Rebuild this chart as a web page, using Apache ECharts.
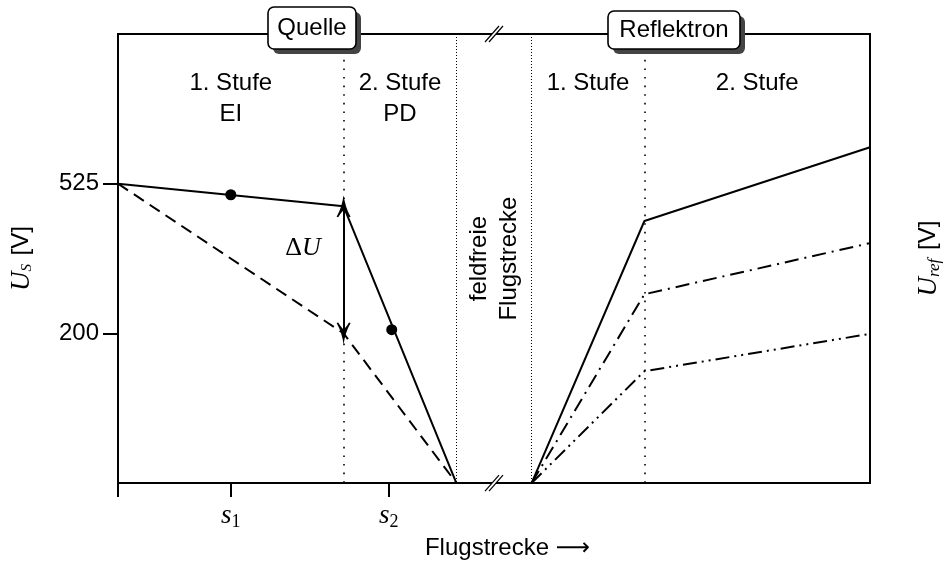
<!DOCTYPE html>
<html>
<head>
<meta charset="utf-8">
<script src="https://cdn.jsdelivr.net/npm/echarts@6/dist/echarts.min.js"></script>
<style>
  html, body { margin: 0; padding: 0; background: #fff; }
  #main { width: 951px; height: 565px; }
</style>
</head>
<body>
<div id="main"></div>
<script>
// Flugstrecke schematisch 0..100, Spannung in V
const xRange = [0, 100]
const yRange = [-125, 850]
const yTickValues = [200, 525]
const xTickValues = [0, 15, 36]
const sLabelValues = [15, 36]
const sLabelSubs = ['1', '2']

// Quelle
const quelleSolid = [[0, 525], [30, 476], [45, -125]]
const quelleDashed = [[0, 525], [30, 200], [45, -125]]
const quelleDots = [[15, 501], [36.4, 208]]
const deltaU = [30, 476, 200] // x, oben, unten

// Reflektron
const reflSolid = [[55, -125], [70, 444], [100, 604]]
const reflDashDot = [[55, -125], [70, 285], [100, 396]]
const reflDashDotDot = [[55, -125], [70, 118], [100, 199]]

// Bereiche
const stageLines = [30, 70]    // Stufengrenzen
const stageLineTop = 794
const regionLines = [45, 55]   // feldfreie Flugstrecke
const breakX = 50
const regionEdges = [[0, 30], [30, 45], [45, 55], [55, 70], [70, 100]]
const regionNames = ['1. Stufe\nEI', '2. Stufe\nPD', 'feldfreie\nFlugstrecke', '1. Stufe', '2. Stufe']
const boxTitles = ['Quelle', 'Reflektron']

const sans = "'Liberation Sans', 'DejaVu Sans', sans-serif"
const serif = "'Liberation Serif', 'DejaVu Serif', serif"

const chart = echarts.init(document.getElementById('main'))

const lineSeries = (name, data, type) => ({
  name: name,
  type: 'line',
  data: data,
  showSymbol: false,
  symbol: 'none',
  silent: true,
  z: 5,
  lineStyle: { color: '#000', width: 2, type: type }
})

const markAreaData = regionEdges.map((e, i) => {
  const start = { xAxis: e[0], name: regionNames[i] }
  if (i === 2) {
    start.label = { position: 'inside', rotate: 90, lineHeight: 30, distance: 0 }
  }
  return [start, { xAxis: e[1] }]
})

// LaTeX-artige Pfeilspitze
const arrowHead = 'path://M0,0 C1,7 3,14 6.5,20 L5,20.5 C3,17 1,15 0,14 C-1,15 -3,17 -5,20.5 L-6.5,20 C-3,14 -1,7 0,0 Z'

const option = {
  animation: false,
  grid: {
    left: 116, right: 78, top: 34, bottom: 78,
    show: true, borderColor: '#000', borderWidth: 2, backgroundColor: 'transparent'
  },
  xAxis: {
    type: 'value',
    min: xRange[0],
    max: xRange[1],
    axisLine: { show: false, onZero: false },
    splitLine: { show: false },
    axisTick: { show: true, customValues: xTickValues, length: 14, lineStyle: { color: '#000', width: 2 } },
    axisLabel: {
      customValues: sLabelValues,
      margin: 18,
      formatter: v => '{s|s}{sub|' + sLabelSubs[sLabelValues.indexOf(v)] + '}',
      rich: {
        s: { fontFamily: serif, fontStyle: 'italic', fontSize: 27, color: '#000' },
        sub: { fontFamily: serif, fontSize: 18, color: '#000', padding: [12, 0, 0, 0] }
      }
    },
    name: 'Flugstrecke \u27F6',
    nameLocation: 'middle',
    nameGap: 46,
    nameTextStyle: { fontFamily: sans, fontSize: 24, color: '#000', padding: [0, 0, 0, 27] }
  },
  yAxis: [
    {
      type: 'value',
      min: yRange[0],
      max: yRange[1],
      axisLine: { show: false, onZero: false },
      splitLine: { show: false },
      axisTick: { show: true, customValues: yTickValues, length: 15, lineStyle: { color: '#000', width: 2 } },
      axisLabel: { customValues: yTickValues, margin: 19, fontFamily: sans, fontSize: 24, color: '#000' },
      name: '{u|U}{sub|S} [V]',
      nameLocation: 'middle',
      nameRotate: 90,
      nameGap: 83,
      nameTextStyle: {
        fontFamily: sans, fontSize: 24, color: '#000',
        rich: {
          u: { fontFamily: serif, fontStyle: 'italic', fontSize: 27, color: '#000' },
          sub: { fontFamily: serif, fontStyle: 'italic', fontSize: 15, color: '#000', padding: [12, 2, 0, 0] }
        }
      }
    },
    {
      type: 'value',
      position: 'right',
      min: yRange[0],
      max: yRange[1],
      axisLine: { show: false, onZero: false },
      splitLine: { show: false },
      axisTick: { show: false },
      axisLabel: { show: false },
      name: '{u|U}{sub|ref} [V]',
      nameLocation: 'middle',
      nameRotate: 90,
      nameGap: 44,
      nameTextStyle: {
        fontFamily: sans, fontSize: 24, color: '#000',
        rich: {
          u: { fontFamily: serif, fontStyle: 'italic', fontSize: 27, color: '#000' },
          sub: { fontFamily: serif, fontStyle: 'italic', fontSize: 17, color: '#000', padding: [12, 2, 0, 0] }
        }
      }
    }
  ],
  series: [
    Object.assign(lineSeries('Quelle', quelleSolid, 'solid'), {
      markLine: {
        silent: true,
        symbol: 'none',
        label: { show: false },
        z: 1,
        data: stageLines.map(x => [
          { coord: [x, stageLineTop], lineStyle: { color: '#000', width: 1.6, type: [1.6, 7] } },
          { coord: [x, yRange[0]] }
        ]).concat(regionLines.map(x => [
          { coord: [x, yRange[1]], lineStyle: { color: '#000', width: 1, type: [1, 2] } },
          { coord: [x, yRange[0]] }
        ]))
      },
      markArea: {
        silent: true,
        itemStyle: { color: 'transparent' },
        label: {
          show: true, position: 'insideTop', distance: 34,
          fontFamily: sans, fontSize: 24, lineHeight: 31, color: '#000'
        },
        data: markAreaData
      }
    }),
    Object.assign(lineSeries('Quelle gestrichelt', quelleDashed, [12, 7]), {
      markLine: {
        silent: true,
        symbol: [arrowHead, arrowHead],
        symbolSize: [14, 22],
        label: { show: false },
        lineStyle: { color: '#000', width: 2, type: 'solid' },
        itemStyle: { color: '#000' },
        data: [[{ coord: [deltaU[0], deltaU[1]] }, { coord: [deltaU[0], deltaU[2]] }]]
      },
      markPoint: {
        silent: true,
        symbol: 'circle',
        symbolSize: 0,
        label: {
          show: true, position: 'inside',
          formatter: '{d|\u0394}{u|U}',
          rich: {
            d: { fontFamily: serif, fontSize: 26, color: '#000' },
            u: { fontFamily: serif, fontStyle: 'italic', fontSize: 26, color: '#000' }
          }
        },
        data: [{ coord: [24.6, 385] }]
      }
    }),
    {
      name: 'Punkte',
      type: 'scatter',
      data: quelleDots,
      symbolSize: 11,
      silent: true,
      z: 6,
      itemStyle: { color: '#000', opacity: 1 }
    },
    lineSeries('Reflektron', reflSolid, 'solid'),
    lineSeries('Reflektron strichpunkt', reflDashDot, [14, 6, 2, 6]),
    lineSeries('Reflektron strichpunktpunkt', reflDashDotDot, [14, 5, 2, 5, 2, 5])
  ]
}

chart.setOption(option)

// Achsenunterbrechung (//) oben und unten
const bx = chart.convertToPixel({ xAxisIndex: 0 }, breakX)
const yTopPx = chart.convertToPixel({ yAxisIndex: 0 }, yRange[1])
const yBotPx = chart.convertToPixel({ yAxisIndex: 0 }, yRange[0])
const breakMark = cy => ({
  type: 'group', x: bx, y: cy, z: 100,
  children: [
    { type: 'polygon', shape: { points: [[-9, 8], [5, -8], [9, -8], [-5, 8]] }, style: { fill: '#fff' } },
    { type: 'line', shape: { x1: -9, y1: 8, x2: 5, y2: -8 }, style: { stroke: '#000', lineWidth: 1.2 } },
    { type: 'line', shape: { x1: -5, y1: 8, x2: 9, y2: -8 }, style: { stroke: '#000', lineWidth: 1.2 } }
  ]
})

// Beschriftungskästen mit Schatten
const titleBox = (text, x, y, w, h) => ({
  type: 'group', x: x, y: y, z: 100,
  children: [
    { type: 'rect', shape: { x: 5, y: 5, width: w, height: h, r: 6 }, style: { fill: '#444' } },
    { type: 'rect', shape: { x: 0, y: 0, width: w, height: h, r: 6 }, style: { fill: '#fff', stroke: '#000', lineWidth: 1.6 } },
    {
      type: 'text', x: w / 2, y: h / 2,
      style: { text: text, fontFamily: sans, fontSize: 24, fill: '#000', align: 'center', verticalAlign: 'middle' }
    }
  ]
})

chart.setOption({
  graphic: [
    breakMark(yTopPx),
    breakMark(yBotPx),
    titleBox(boxTitles[0], 268, 7, 88, 42),
    titleBox(boxTitles[1], 608, 11, 132, 38)
  ]
})
</script>
</body>
</html>
